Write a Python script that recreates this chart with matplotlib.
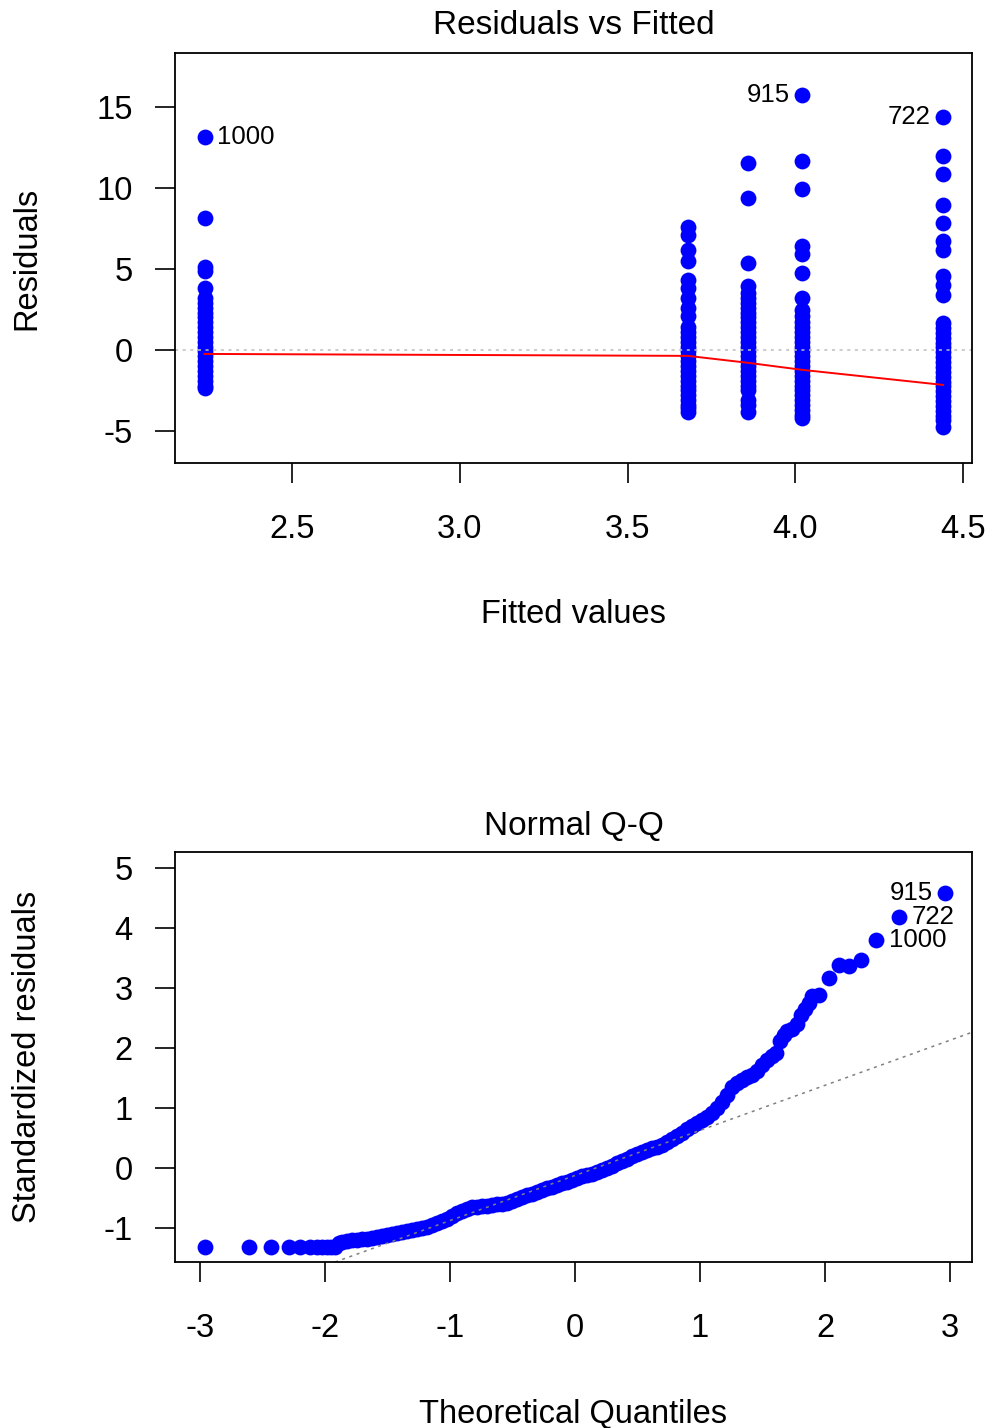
import matplotlib
matplotlib.use('Agg')
import matplotlib.pyplot as plt
import numpy as np

plt.rcParams['font.family'] = ['Liberation Sans', 'DejaVu Sans']
plt.rcParams['axes.unicode_minus'] = False

# ---- Residuals vs Fitted data (one list of residuals per fitted level) ----
fitted_levels = [2.24, 3.68, 3.86, 4.02, 4.44]
resid_g1 = [13.1, 8.15, 5.1, 4.85, 3.8, 3.2, 2.9, 2.6, 2.3, 2.0, 1.7, 1.4, 1.1, 0.8, 0.5,
            0.2, -0.1, -0.4, -0.7, -1.0, -1.3, -1.6, -1.9, -2.2, -2.35]
resid_g2 = [7.6, 7.1, 6.17, 5.45, 4.32, 3.81, 3.19, 2.57, 2.06, 1.44, 1.1, 0.8, 0.5, 0.2,
            -0.1, -0.4, -0.7, -1.0, -1.3, -1.6, -1.9, -2.2, -2.5, -2.8, -3.1, -3.4, -3.6, -3.81]
resid_g3 = [11.52, 9.36, 5.35, 3.91, 3.5, 3.2, 2.9, 2.6, 2.3, 2.0, 1.7, 1.4, 1.1, 0.8, 0.5,
            0.2, -0.1, -0.4, -0.7, -1.0, -1.3, -1.6, -1.9, -2.2, -2.47, -3.09, -3.4, -3.81]
resid_g4 = [15.74, 11.67, 9.92, 6.38, 5.93, 4.73, 3.19, 2.47, 2.06, 1.7, 1.4, 1.1, 0.82,
            0.5, 0.2, -0.1, -0.4, -0.7, -1.0, -1.3, -1.6, -1.9, -2.2, -2.5, -2.8, -3.1,
            -3.4, -3.7, -4.0, -4.22]
resid_g5 = [14.36, 11.93, 10.84, 8.95, 7.82, 6.69, 6.17, 4.53, 4.01, 3.4, 1.65, 1.35, 1.05,
            0.75, 0.45, 0.15, -0.15, -0.45, -0.75, -1.05, -1.35, -1.65, -1.95, -2.25,
            -2.55, -2.85, -3.15, -3.45, -3.75, -4.05, -4.35, -4.73]
resid_groups = [resid_g1, resid_g2, resid_g3, resid_g4, resid_g5]

smooth_x = [2.24, 3.68, 3.86, 4.02, 4.44]
smooth_y = [-0.25, -0.37, -0.80, -1.23, -2.16]

top_ids = ['1000', '915', '722']
top_id_x = [2.24, 4.02, 4.44]
top_id_y = [13.1, 15.74, 14.36]

# ---- Normal Q-Q data ----
qq_theo = [-2.96, -2.61, -2.43, -2.29, -2.20, -2.12, -2.06, -2.02, -1.98, -1.95, -1.92,
           -1.89, -1.86, -1.82, -1.78, -1.74, -1.70, -1.66, -1.62, -1.58, -1.54,
           -1.50, -1.46, -1.42, -1.38, -1.34, -1.30, -1.26, -1.22, -1.18, -1.14,
           -1.10, -1.06, -1.02, -0.98, -0.94, -0.90, -0.86, -0.82, -0.78, -0.74,
           -0.70, -0.66, -0.62, -0.58, -0.54, -0.50, -0.46, -0.42, -0.38, -0.34,
           -0.30, -0.26, -0.22, -0.18, -0.14, -0.10, -0.06, -0.02, 0.02, 0.06,
           0.10, 0.14, 0.18, 0.22, 0.26, 0.30, 0.34, 0.38, 0.42, 0.46,
           0.50, 0.54, 0.58, 0.62, 0.66, 0.70, 0.74, 0.78, 0.82, 0.86,
           0.90, 0.94, 0.98, 1.02, 1.06, 1.10, 1.14, 1.18, 1.22, 1.26,
           1.30, 1.34, 1.38, 1.42, 1.46, 1.50, 1.54, 1.58, 1.61, 1.64,
           1.67, 1.70, 1.74, 1.78, 1.81, 1.84, 1.87, 1.90, 1.95, 2.03,
           2.11, 2.19, 2.29, 2.41, 2.59, 2.96]
qq_resid = [-1.31, -1.31, -1.31, -1.31, -1.31, -1.31, -1.31, -1.31, -1.31, -1.31, -1.31,
            -1.24, -1.22, -1.21, -1.20, -1.19, -1.18, -1.17, -1.16, -1.15, -1.13,
            -1.11, -1.10, -1.08, -1.06, -1.05, -1.03, -1.01, -0.99, -0.97, -0.95,
            -0.91, -0.88, -0.84, -0.79, -0.75, -0.71, -0.68, -0.65, -0.64, -0.63,
            -0.62, -0.61, -0.60, -0.59, -0.57, -0.54, -0.51, -0.48, -0.45, -0.42,
            -0.39, -0.36, -0.33, -0.31, -0.28, -0.25, -0.22, -0.19, -0.16, -0.13,
            -0.11, -0.09, -0.06, -0.03, 0.00, 0.04, 0.08, 0.12, 0.16, 0.20,
            0.24, 0.27, 0.30, 0.33, 0.36, 0.39, 0.43, 0.48, 0.53, 0.59,
            0.65, 0.70, 0.76, 0.81, 0.86, 0.92, 1.00, 1.10, 1.22, 1.35,
            1.42, 1.47, 1.52, 1.55, 1.62, 1.72, 1.80, 1.86, 1.92, 2.12,
            2.22, 2.28, 2.32, 2.40, 2.55, 2.65, 2.75, 2.87, 2.88, 3.16,
            3.38, 3.36, 3.47, 3.80, 4.18, 4.58]
qqline_intercept = -0.12
qqline_slope = 0.75

qq_ids = ['915', '722', '1000']
qq_id_x = [2.96, 2.59, 2.41]
qq_id_y = [4.58, 4.18, 3.80]

# ---- figure ----
fig = plt.figure(figsize=(9.92, 14.28), dpi=100)
ax1 = fig.add_axes([0.1764, 0.6758, 0.8034, 0.2871])
ax2 = fig.add_axes([0.1764, 0.1162, 0.8034, 0.2871])

ms = 11.4
fs = 23.5
idfs = 18.5

def style(ax):
    for s in ax.spines.values():
        s.set_linewidth(1.3)
    ax.tick_params(length=14.5, width=1.2, labelsize=fs)
    ax.tick_params(axis='x', pad=22)
    ax.tick_params(axis='y', pad=16)

# top panel
for fx, grp in zip(fitted_levels, resid_groups):
    ax1.plot([fx]*len(grp), grp, 'o', color='blue', ms=ms, mew=0)
ax1.axhline(0, color='#bebebe', lw=1.1, ls=(0, (2, 3)))
ax1.plot(smooth_x, smooth_y, color='red', lw=1.4)
ax1.set_xlim(2.152, 4.526)
ax1.set_ylim(-6.97, 18.3)
ax1.set_xticks([2.5, 3.0, 3.5, 4.0, 4.5])
ax1.set_yticks([-5, 0, 5, 10, 15])
style(ax1)
ax1.annotate(top_ids[0], (top_id_x[0], top_id_y[0]), xytext=(9, 0),
             textcoords='offset points', va='center', ha='left', fontsize=idfs)
for lab, x, y in zip(top_ids[1:], top_id_x[1:], top_id_y[1:]):
    ax1.annotate(lab, (x, y), xytext=(-9, 0), textcoords='offset points',
                 va='center', ha='right', fontsize=idfs)
ax1.text(0.5, 1.046, 'Residuals vs Fitted', transform=ax1.transAxes,
         ha='center', va='baseline', fontsize=24)
ax1.set_xlabel('Fitted values', fontsize=fs)
ax1.xaxis.set_label_coords(0.5, -0.333)
ax1.set_ylabel('Residuals', fontsize=fs)
ax1.yaxis.set_label_coords(-0.166, 0.5)

# bottom panel
ax2.plot(qq_theo, qq_resid, 'o', color='blue', ms=ms, mew=0)
ax2.axline((0, qqline_intercept), slope=qqline_slope, color='gray', lw=1.1,
           ls=(0, (2, 3)))
ax2.set_xlim(-3.2, 3.176)
ax2.set_ylim(-1.56, 5.26)
ax2.set_xticks([-3, -2, -1, 0, 1, 2, 3])
ax2.set_yticks([-1, 0, 1, 2, 3, 4, 5])
style(ax2)
ax2.annotate(qq_ids[0], (qq_id_x[0], qq_id_y[0]), xytext=(-9, 0),
             textcoords='offset points', va='center', ha='right', fontsize=idfs)
for lab, x, y in zip(qq_ids[1:], qq_id_x[1:], qq_id_y[1:]):
    ax2.annotate(lab, (x, y), xytext=(9, 0), textcoords='offset points',
                 va='center', ha='left', fontsize=idfs)
ax2.text(0.5, 1.0415, 'Normal Q-Q', transform=ax2.transAxes,
         ha='center', va='baseline', fontsize=24)
ax2.set_xlabel('Theoretical Quantiles', fontsize=fs)
ax2.xaxis.set_label_coords(0.5, -0.333)
ax2.set_ylabel('Standardized residuals', fontsize=fs)
ax2.yaxis.set_label_coords(-0.166, 0.5)

fig.savefig('out.png', dpi=100)
